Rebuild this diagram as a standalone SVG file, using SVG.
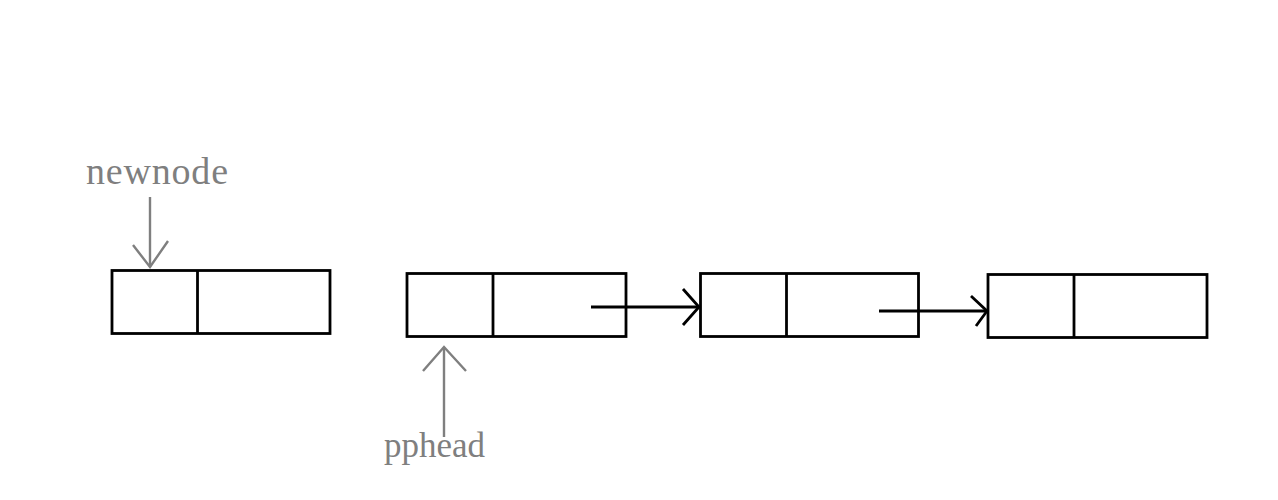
<svg xmlns="http://www.w3.org/2000/svg" width="1278" height="500" viewBox="0 0 1278 500">
<style>
.box{fill:none;stroke:#000;stroke-width:2.8}
.lnk{fill:none;stroke:#000;stroke-width:2.8}
.ptr{fill:none;stroke:#7f7f7f;stroke-width:2.4}
.lbl{font-family:"Liberation Serif",serif;font-size:35px;fill:#7f7f7f}
</style>
<rect width="1278" height="500" fill="#fff"/>
<g id="node-newnode">
<rect class="box" x="112" y="270.5" width="218" height="63"/>
<line class="box" x1="197.5" y1="270.5" x2="197.5" y2="333.5"/>
</g>
<g id="node-1">
<rect class="box" x="407" y="273.5" width="219" height="63"/>
<line class="box" x1="493" y1="273.5" x2="493" y2="336.5"/>
</g>
<g id="node-2">
<rect class="box" x="700.5" y="273.5" width="218" height="63"/>
<line class="box" x1="786.5" y1="273.5" x2="786.5" y2="336.5"/>
</g>
<g id="node-3">
<rect class="box" x="988" y="274.5" width="219" height="63"/>
<line class="box" x1="1074" y1="274.5" x2="1074" y2="337.5"/>
</g>
<g id="label-newnode">
<text class="lbl" x="86" y="184" style="font-size:38px" textLength="142" lengthAdjust="spacing">newnode</text>
</g>
<g id="label-pphead">
<text class="lbl" x="384" y="457" textLength="101" lengthAdjust="spacing">pphead</text>
</g>
<g id="connectors">
<line class="lnk" x1="591" y1="307" x2="699" y2="307"/>
<polyline class="lnk" points="683,289 699,307 683,325"/>
<line class="lnk" x1="879" y1="311" x2="987" y2="311"/>
<polyline class="lnk" points="971,296 987,311 976,326"/>
<line class="ptr" x1="150" y1="197" x2="150" y2="267"/>
<polyline class="ptr" points="133,245 150,267 168,241"/>
<line class="ptr" x1="444" y1="347" x2="444" y2="437"/>
<polyline class="ptr" points="423,371 444,347 466,371"/>
</g>
</svg>
